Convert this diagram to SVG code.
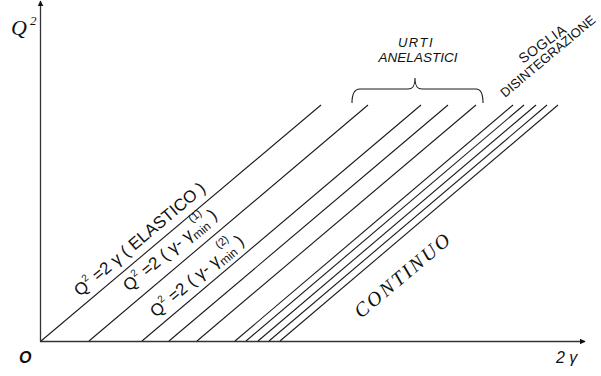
<svg xmlns="http://www.w3.org/2000/svg" width="601" height="376" viewBox="0 0 601 376">
  <style>
    .axis { stroke: #333; stroke-width: 1.3; fill: none; }
    .ray { stroke: #1a1a1a; stroke-width: 1.1; fill: none; }
    .brace { stroke: #1a1a1a; stroke-width: 1.1; fill: none; }
    .lbl { font-family: "Liberation Sans", Arial, sans-serif; fill: #111; }
    .ser { font-family: "Liberation Serif", "Times New Roman", serif; fill: #111; }
  </style>
  <defs>
    <marker id="arr" viewBox="0 0 10 10" refX="9" refY="5" markerWidth="6" markerHeight="6" orient="auto" markerUnits="userSpaceOnUse">
      <path d="M0,0 L10,5 L0,10 Z" fill="#111"/>
    </marker>
  </defs>

  <rect width="601" height="376" fill="#fff"/>

  <!-- axes -->
  <g id="axes">
    <line class="axis" x1="40.5" y1="341.5" x2="40.5" y2="1" marker-end="url(#arr)"/>
    <line class="axis" x1="40" y1="341.5" x2="585" y2="341.5" marker-end="url(#arr)"/>
    <text class="ser" x="11" y="35" font-size="22" font-style="italic">Q<tspan font-size="13" dx="3" dy="-10">2</tspan></text>
    <text class="lbl" x="19" y="363" font-size="16" font-weight="bold" font-style="italic">O</text>
    <text class="lbl" x="556" y="363" font-size="16" font-style="italic">2 γ</text>
  </g>

  <!-- threshold rays Q^2 = 2(γ - γmin) -->
  <g id="connectors">
    <line class="ray" x1="41" y1="341" x2="321" y2="105"/>
    <line class="ray" x1="89" y1="341" x2="368" y2="105"/>
    <line class="ray" x1="142" y1="341" x2="421" y2="105"/>
    <line class="ray" x1="169" y1="341" x2="448" y2="105"/>
    <line class="ray" x1="197" y1="341" x2="476" y2="105"/>
    <line class="ray" x1="235" y1="341" x2="513" y2="105"/>
    <line class="ray" x1="246" y1="341" x2="524" y2="105"/>
    <line class="ray" x1="258" y1="341" x2="536" y2="105"/>
    <line class="ray" x1="269" y1="341" x2="547" y2="105"/>
    <line class="ray" x1="280" y1="341" x2="558" y2="105"/>
  </g>

  <!-- ray labels -->
  <g id="label-elastic" transform="translate(80,297) rotate(-40.2)">
    <text class="lbl" x="0" y="0" font-size="17">Q<tspan font-size="10" dy="-8">2</tspan><tspan dy="8"> =2 γ ( ELASTICO )</tspan></text>
  </g>
  <g id="label-inel-1" transform="translate(129,292) rotate(-40.2)">
    <text class="lbl" x="0" y="0" font-size="17">Q<tspan font-size="10" dy="-8">2</tspan><tspan dy="8"> =2 ( γ- γ</tspan><tspan font-size="12" dy="4">min</tspan><tspan font-size="11" dx="-12" dy="-16">(1)</tspan><tspan dy="12"> )</tspan></text>
  </g>
  <g id="label-inel-2" transform="translate(156,318) rotate(-40.2)">
    <text class="lbl" x="0" y="0" font-size="17">Q<tspan font-size="10" dy="-8">2</tspan><tspan dy="8"> =2 ( γ- γ</tspan><tspan font-size="12" dy="4">min</tspan><tspan font-size="11" dx="-12" dy="-16">(2)</tspan><tspan dy="12"> )</tspan></text>
  </g>

  <!-- inelastic group brace -->
  <g id="inelastic">
    <path class="brace" d="M352,103 C352,94 354,89 360,89 L408,89 C413,89 415,86 415,78 C415,86 417,89 422,89 L476,89 C481,89 483,94 483,103"/>
    <text class="lbl" x="416" y="47" font-size="13" font-style="italic" text-anchor="middle" letter-spacing="1.5">URTI</text>
    <text class="lbl" x="418" y="62" font-size="13.5" font-style="italic" text-anchor="middle">ANELASTICI</text>
  </g>

  <!-- disintegration threshold -->
  <g id="threshold">
    <text class="lbl" font-size="14" transform="translate(523,64) rotate(-36)" letter-spacing="0.5">SOGLIA</text>
    <text class="lbl" font-size="13" transform="translate(505,98) rotate(-40)">DISINTEGRAZIONE</text>
  </g>

  <!-- continuum region -->
  <g id="continuum">
    <text class="ser" font-size="20" font-style="italic" letter-spacing="2.5" transform="translate(361,319) rotate(-40.2)">CONTINUO</text>
  </g>
</svg>
